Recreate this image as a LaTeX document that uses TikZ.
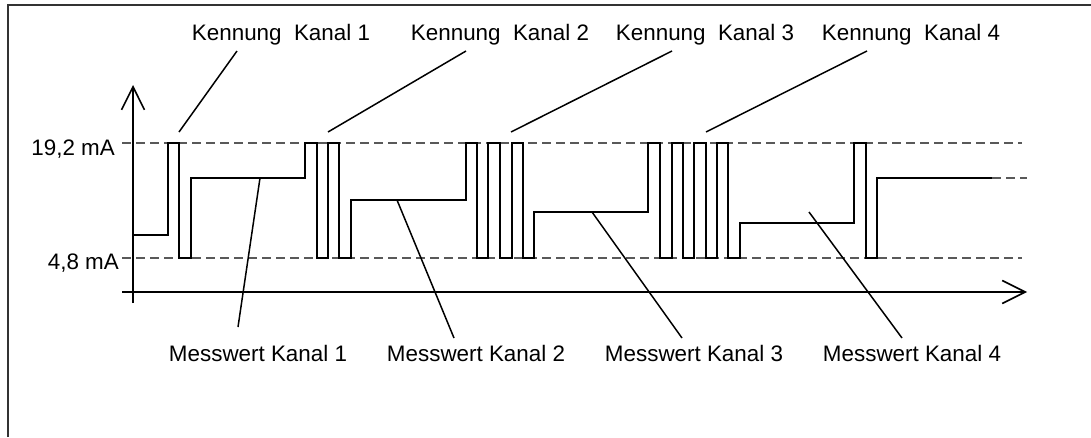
\documentclass[tikz,border=0pt]{standalone}
\usepackage{fontspec}
\setmainfont{Liberation Sans}
\usetikzlibrary{arrows.meta}
\tikzset{
  lbl/.style={font=\fontsize{22.4}{26}\selectfont, inner sep=0pt, anchor=base},
  ylbl/.style={font=\fontsize{22.4}{26}\selectfont, inner sep=0pt, anchor=base east},
  wave/.style={line width=1.8pt, line join=miter},
  leader/.style={line width=1.5pt},
  axis/.style={line width=1.8pt, -{Straight Barb[length=23pt,width=23pt,line width=1.6pt]}},
  guide/.style={line width=1.2pt, draw=black!65, dash pattern=on 9pt off 5pt},
  frame/.style={line width=2pt, draw=black!80}
}
\begin{document}
\begin{tikzpicture}[x=1pt,y=-1pt]
\useasboundingbox (0,0) rectangle (1091,437);
% frame
\draw[frame] (8,437) -- (8,5) -- (1091,5);
% guide lines
\draw[guide] (122,143) -- (1022,143);
\draw[guide] (122,258) -- (1022,258);
\draw[guide] (992,178) -- (1027,178);
% axes
\coordinate (ybot) at (133,303);
\coordinate (ytop) at (133,85);
\coordinate (xl) at (122,292);
\coordinate (xr) at (1027,292);
\draw[axis] (ybot) -- (ytop);
\draw[axis] (xl) -- (xr);
% axis labels
\node[ylbl] (y192) at (115,155) {19,2 mA};
\node[ylbl] (y48) at (119,269) {4,8 mA};
% waveform
\draw[wave] (133,235) -- (168,235) -- (168,143) -- (179,143) -- (179,258) -- (191,258) -- (191,178) -- (305,178)
  -- (305,143) -- (317,143) -- (317,258) -- (328,258) -- (328,143) -- (339,143) -- (339,258) -- (351,258) -- (351,200) -- (466,200)
  -- (466,143) -- (477,143) -- (477,258) -- (488,258) -- (488,143) -- (500,143) -- (500,258) -- (512,258) -- (512,143) -- (523,143) -- (523,258) -- (534,258) -- (534,212) -- (648,212)
  -- (648,143) -- (660,143) -- (660,258) -- (672,258) -- (672,143) -- (683,143) -- (683,258) -- (694,258) -- (694,143) -- (706,143) -- (706,258) -- (717,258) -- (717,143) -- (728,143) -- (728,258) -- (740,258) -- (740,223) -- (854,223)
  -- (854,143) -- (866,143) -- (866,258) -- (877,258) -- (877,178) -- (992,178);
% top labels
\node[lbl] (k1) at (281,40) {Kennung\ \ Kanal 1};
\node[lbl] (k2) at (500,40) {Kennung\ \ Kanal 2};
\node[lbl] (k3) at (705,40) {Kennung\ \ Kanal 3};
\node[lbl] (k4) at (911,40) {Kennung\ \ Kanal 4};
% bottom labels
\node[lbl] (m1) at (258,361) {Messwert Kanal 1};
\node[lbl] (m2) at (476,361) {Messwert Kanal 2};
\node[lbl] (m3) at (694,361) {Messwert Kanal 3};
\node[lbl] (m4) at (912,361) {Messwert Kanal 4};
% leader coordinates
\coordinate (k1a) at (237,51);  \coordinate (k1b) at (179,132);
\coordinate (k2a) at (466,51);  \coordinate (k2b) at (328,132);
\coordinate (k3a) at (672,51);  \coordinate (k3b) at (511,132);
\coordinate (k4a) at (867,51);  \coordinate (k4b) at (706,132);
\coordinate (m1a) at (260,178); \coordinate (m1b) at (238,327);
\coordinate (m2a) at (397,200); \coordinate (m2b) at (454,338);
\coordinate (m3a) at (592,212); \coordinate (m3b) at (682,338);
\coordinate (m4a) at (809,212); \coordinate (m4b) at (902,338);
\draw[leader] (k1a) -- (k1b);
\draw[leader] (k2a) -- (k2b);
\draw[leader] (k3a) -- (k3b);
\draw[leader] (k4a) -- (k4b);
\draw[leader] (m1a) -- (m1b);
\draw[leader] (m2a) -- (m2b);
\draw[leader] (m3a) -- (m3b);
\draw[leader] (m4a) -- (m4b);
\end{tikzpicture}
\end{document}
